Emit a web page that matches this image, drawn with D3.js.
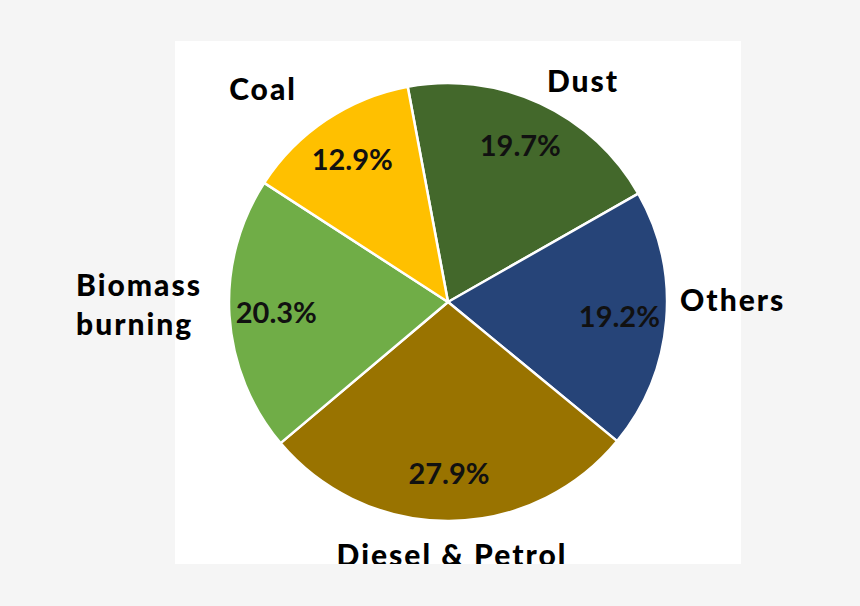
<!DOCTYPE html>
<html>
<head>
<meta charset="utf-8">
<script src="https://cdn.jsdelivr.net/npm/d3@7"></script>
<style>
    html, body { margin: 0; padding: 0; background: #f5f5f5; }
    svg { display: block; }
</style>
</head>
<body>
<div id="chart"></div>
<script>
// Chart data
const categories = ["Dust", "Others", "Diesel & Petrol", "Biomass burning", "Coal"];
const shares = [19.7, 19.2, 27.9, 20.3, 12.9];
const colors = ["#43682B", "#264478", "#997300", "#70AD47", "#FFC000"];

const pieChart = (id) => {
    const width = 860;
    const height = 606;
    const cx = 448;
    const cy = 302;
    const radius = 219;

    const data = categories.map((c, i) => ({ category: c, value: shares[i], color: colors[i] }));

    const svg = d3.select(`#${id}`)
        .append("svg")
        .attr("width", width)
        .attr("height", height);

    // White plot area
    svg.append("rect")
        .attr("x", 175)
        .attr("y", 41)
        .attr("width", 566)
        .attr("height", 523)
        .attr("fill", "#ffffff");

    // clip labels at the bottom of the plot area
    svg.append("clipPath")
        .attr("id", "labelClip")
        .append("rect")
        .attr("x", 0)
        .attr("y", 0)
        .attr("width", width)
        .attr("height", 564);

    const g = svg.append("g")
        .attr("transform", `translate(${cx}, ${cy})`);

    // first slice starts a little left of 12 o'clock
    const start = -10.6 * Math.PI / 180;
    const pie = d3.pie()
        .value((d) => d.value)
        .sort(null)
        .startAngle(start)
        .endAngle(start + 2 * Math.PI);

    const arc = d3.arc().innerRadius(0).outerRadius(radius);
    const labelArc = d3.arc().innerRadius(172).outerRadius(172);

    const arcs = pie(data);

    g.selectAll("path")
        .data(arcs)
        .enter()
        .append("path")
        .attr("d", arc)
        .attr("fill", (d) => d.data.color)
        .attr("stroke", "#ffffff")
        .attr("stroke-width", 2.5)
        .attr("stroke-linejoin", "round");

    // percentage labels inside the slices
    g.selectAll("text.pct")
        .data(arcs)
        .enter()
        .append("text")
        .attr("class", "pct")
        .attr("transform", (d) => `translate(${labelArc.centroid(d)})`)
        .attr("text-anchor", "middle")
        .attr("dy", "0.36em")
        .style("font-family", "Lato, 'Open Sans', sans-serif")
        .style("font-weight", 700)
        .style("font-size", "29px")
        .attr("fill", "#111111")
        .text((d) => d.data.value.toFixed(1) + "%");

    // category labels placed around the pie
    const labelLayout = {
        "Dust": { x: 583, y: 92, anchor: "middle" },
        "Others": { x: 680, y: 311, anchor: "start" },
        "Diesel & Petrol": { x: 452, y: 566, anchor: "middle" },
        "Biomass burning": { x: 76, y: 296, anchor: "start" },
        "Coal": { x: 263, y: 100, anchor: "middle" }
    };

    const names = svg.append("g")
        .attr("clip-path", "url(#labelClip)")
        .selectAll("text")
        .data(data)
        .enter()
        .append("text")
        .attr("x", (d) => labelLayout[d.category].x)
        .attr("y", (d) => labelLayout[d.category].y)
        .attr("text-anchor", (d) => labelLayout[d.category].anchor)
        .style("font-family", "Lato, 'DejaVu Sans', sans-serif")
        .style("font-weight", 900)
        .style("font-size", "30px")
        .style("letter-spacing", "2px")
        .attr("fill", "#000000");

    names.each(function (d) {
        const words = d.category === "Biomass burning" ? ["Biomass", "burning"] : [d.category];
        const t = d3.select(this);
        words.forEach((w, i) => {
            t.append("tspan")
                .attr("x", labelLayout[d.category].x)
                .attr("dy", i === 0 ? 0 : 39)
                .text(w);
        });
    });
};

pieChart("chart");
</script>
</body>
</html>
